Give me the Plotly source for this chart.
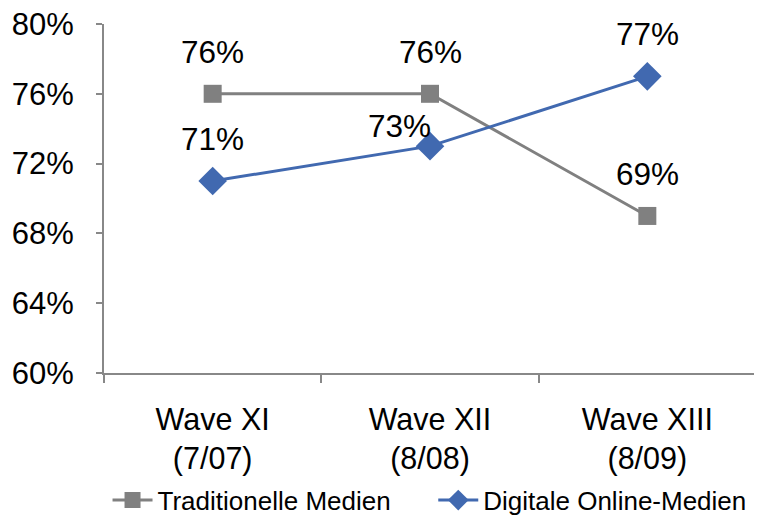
import plotly.graph_objects as go

WAVES = ["Wave XI<br>(7/07)", "Wave XII<br>(8/08)", "Wave XIII<br>(8/09)"]
TRADITIONAL = [0.76, 0.76, 0.69]
DIGITAL = [0.71, 0.73, 0.77]

GRAY = "#808080"
BLUE = "#4169B0"
AXIS = "#888888"
FONT = "Liberation Sans, Arial, sans-serif"

# label offsets in pixels (Excel nudged the 73% label to the left)
LABEL_SHIFT = {("d", 1): (-31, 20)}

fig = go.Figure()
fig.add_trace(
    go.Scatter(
        x=WAVES,
        y=TRADITIONAL,
        mode="lines+markers",
        name="Traditionelle Medien",
        line={"color": GRAY, "width": 3},
        marker={"symbol": "square", "size": 18, "color": GRAY},
        legend="legend",
    )
)
fig.add_trace(
    go.Scatter(
        x=WAVES,
        y=DIGITAL,
        mode="lines+markers",
        name="Digitale Online-Medien",
        line={"color": BLUE, "width": 3},
        marker={"symbol": "diamond", "size": 22, "color": BLUE},
        legend="legend2",
    )
)

for key, series in (("t", TRADITIONAL), ("d", DIGITAL)):
    for i, (wave, value) in enumerate(zip(WAVES, series)):
        xs, ys = LABEL_SHIFT.get((key, i), (0, 42))
        fig.add_annotation(
            x=wave,
            y=value,
            text=f"{value:.0%}",
            showarrow=False,
            xshift=xs,
            yshift=ys,
            font={"size": 31.5, "color": "#000000", "family": FONT},
        )

legend_style = {
    "orientation": "h",
    "xref": "container",
    "yref": "container",
    "xanchor": "left",
    "yanchor": "middle",
    "y": 0.048,
    "font": {"size": 26},
    "itemwidth": 40,
    "bgcolor": "rgba(0,0,0,0)",
}

# page body has an 8px margin, so the figure is sized to fit inside the window
fig.update_layout(
    width=754,
    height=517,
    paper_bgcolor="white",
    plot_bgcolor="white",
    font={"family": FONT, "color": "#000000"},
    margin={"l": 96, "r": 6, "t": 16, "b": 152},
    showlegend=True,
    legend={**legend_style, "x": 0.132},
    legend2={**legend_style, "x": 0.564},
)
fig.update_xaxes(
    range=[-0.5, 2.5],
    automargin=False,
    showline=True,
    linecolor=AXIS,
    linewidth=2,
    showgrid=False,
    ticks="outside",
    tickson="boundaries",
    ticklen=8,
    tickcolor=AXIS,
    tickwidth=2,
    tickfont={"size": 30.5},
    ticklabelstandoff=18,
)
fig.update_yaxes(
    range=[0.6, 0.8],
    dtick=0.04,
    tickformat=".0%",
    automargin=False,
    ticklabeloverflow="allow",
    showline=True,
    linecolor=AXIS,
    linewidth=2,
    showgrid=False,
    zeroline=False,
    ticks="outside",
    ticklen=6,
    tickcolor=AXIS,
    tickwidth=2,
    tickfont={"size": 31},
    ticklabelstandoff=16,
)

fig.write_html("out.html")
